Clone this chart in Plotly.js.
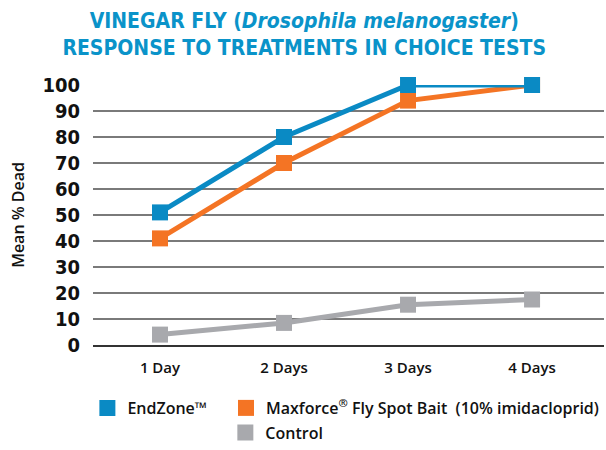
<!DOCTYPE html>
<html><head><meta charset="utf-8">
<script src="https://cdn.plot.ly/plotly-3.0.1.min.js"></script>
<style>body{margin:0;background:#fff}#chart{width:606px;height:450px}</style>
</head><body><div id="chart"></div>
<script>
const categories = ["1 Day", "2 Days", "3 Days", "4 Days"];
const endzone = [51, 80, 100, 100];
const maxforce = [41, 70, 94, 100];
const control = [4, 8.5, 15.5, 17.5];
const seriesNames = ["EndZone™", "Maxforce<sup>®</sup> Fly Spot Bait  (10% imidacloprid)", "Control"];
const colors = ["#0a8ac4", "#f47424", "#a8a9ad"];
const yTicks = [0,10,20,30,40,50,60,70,80,90,100];

const cond = "'DejaVu Sans Condensed', 'DejaVu Sans', sans-serif";
const font = "'Open Sans', sans-serif";
function line(y, c) {
  return {x: categories, y: y, type: 'scatter', mode: 'lines+markers', showlegend: false,
    cliponaxis: false, line: {color: c, width: 5},
    marker: {symbol: 'square', size: 16, color: c}};
}
function leg(name, c, lg) {
  return {x: [null], y: [null], type: 'scatter', mode: 'markers', name: name, legend: lg,
    marker: {symbol: 'square', size: 17, color: c}};
}
const data = [
  line(control, colors[2]), line(maxforce, colors[1]), line(endzone, colors[0]),
  leg(seriesNames[0], colors[0], 'legend'),
  leg(seriesNames[1], colors[1], 'legend2'),
  leg(seriesNames[2], colors[2], 'legend3')
];
const legFont = {family: font, size: 16, color: '#111', weight: 600};
const legBase = {orientation: 'v', font: legFont, itemwidth: 30, tracegroupgap: 0,
  bgcolor: 'rgba(0,0,0,0)', yanchor: 'middle'};
const layout = {
  width: 606, height: 450,
  margin: {l: 93, r: 2, t: 85, b: 104},
  paper_bgcolor: '#fff', plot_bgcolor: '#fff',
  font: {family: font, color: '#111'},
  title: {text: "VINEGAR FLY (<i>Drosophila melanogaster</i>)<br>RESPONSE TO TREATMENTS IN CHOICE TESTS",
    font: {family: cond, size: 21, color: '#0a93c9', weight: 'bold'},
    x: 0.502, xref: 'container', xanchor: 'center', y: 0.938, yref: 'container', yanchor: 'middle'},
  xaxis: {type: 'category', range: [-0.54, 3.58], showgrid: false, zeroline: false,
    showline: true, linecolor: '#333', linewidth: 2,
    tickfont: {family: font, size: 15, color: '#111', weight: 600}, ticks: '', ticklabelstandoff: 8},
  yaxis: {range: [0, 100], tickvals: yTicks, showgrid: true, gridcolor: '#7a7a7a', gridwidth: 1.5,
    zeroline: false, showline: false, ticks: '', ticklabelstandoff: 12,
    tickfont: {family: cond, size: 20, color: '#111', weight: 'bold'},
    title: {text: 'Mean % Dead', font: {family: font, size: 16, color: '#111', weight: 600}, standoff: 13}},
  legend: Object.assign({}, legBase, {x: -0.011, xanchor: 'left', y: -0.2375}),
  legend2: Object.assign({}, legBase, {x: 1, xanchor: 'right', y: -0.2375}),
  legend3: Object.assign({}, legBase, {x: 0.259, xanchor: 'left', y: -0.397, yanchor: 'bottom'})
};
Plotly.newPlot('chart', data, layout, {displayModeBar: false});
</script></body></html>
